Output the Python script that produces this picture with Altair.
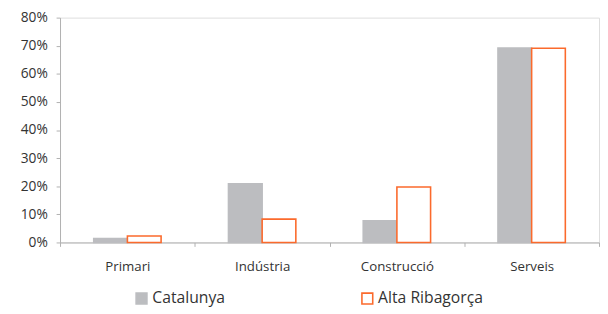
import altair as alt
import pandas as pd

categories = ["Primari", "Indústria", "Construcció", "Serveis"]
series = ["Catalunya", "Alta Ribagorça"]
catalunya = [0.014, 0.209, 0.077, 0.692]
alta_ribagorca = [0.023, 0.083, 0.197, 0.691]

rows = []
for c, a, b in zip(categories, catalunya, alta_ribagorca):
    rows.append({"sector": c, "serie": series[0], "valor": a})
    rows.append({"sector": c, "serie": series[1], "valor": b})
df = pd.DataFrame(rows)

FONT = "Open Sans"
GREY = "#bcbdc0"
ORANGE = "#fb6a2c"

leg = dict(title=None, orient="none", direction="horizontal",
           legendX=75, legendY=278, symbolType="square",
           symbolSize=121, symbolStrokeWidth=1.6,
           labelFontSize=16, labelColor="#333333", labelFont=FONT,
           labelOffset=3, columnPadding=135)

chart = alt.Chart(df).mark_bar(strokeWidth=1.6).encode(
    x=alt.X("sector:N", sort=categories, title=None,
            scale=alt.Scale(paddingInner=0, paddingOuter=0),
            axis=alt.Axis(labelAngle=0, tickBand="extent", tickSize=4,
                          labelPadding=14, labelFontSize=13.5, labelColor="#333333",
                          domainColor="#b0b0b0", tickColor="#b0b0b0", labelFont=FONT)),
    xOffset=alt.XOffset("serie:N", sort=series,
                        scale=alt.Scale(paddingInner=0, paddingOuter=1)),
    y=alt.Y("valor:Q", title=None,
            scale=alt.Scale(domain=[0, 0.8], nice=False),
            axis=alt.Axis(format=".0%", values=[0, 0.1, 0.2, 0.3, 0.4, 0.5, 0.6, 0.7, 0.8],
                          grid=False, tickSize=4, labelPadding=9, labelFontSize=14,
                          labelColor="#333333", domainColor="#b0b0b0", tickColor="#b0b0b0",
                          labelFont=FONT)),
    fill=alt.Fill("serie:N", sort=series,
                  scale=alt.Scale(domain=series, range=[GREY, "#ffffff"]),
                  legend=alt.Legend(**leg)),
    stroke=alt.Stroke("serie:N", sort=series,
                      scale=alt.Scale(domain=series, range=[GREY, ORANGE]),
                      legend=alt.Legend(**leg)),
).properties(
    width=549, height=229,
    padding={"left": 12, "top": 0, "right": 0, "bottom": 0},
).configure_view(stroke=None).configure(font=FONT)

chart.save("out.html", embed_options={"renderer": "svg", "actions": False})
